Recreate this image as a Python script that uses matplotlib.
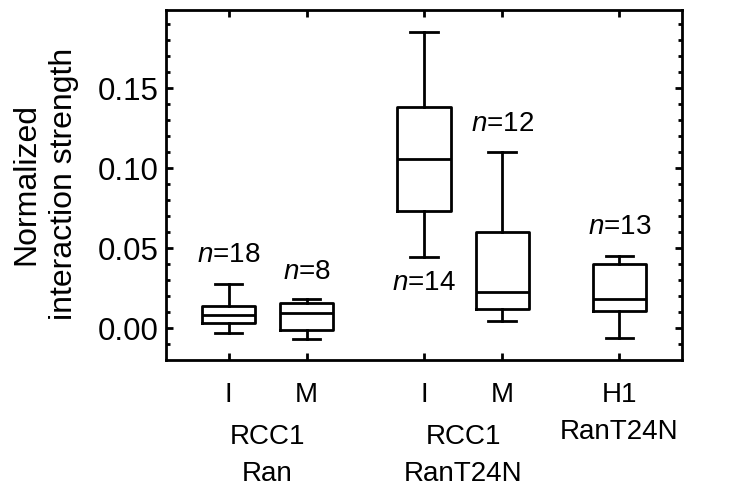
import matplotlib
matplotlib.use('Agg')
import matplotlib.pyplot as plt
from matplotlib import ticker

plt.rcParams['font.family'] = ['Liberation Sans', 'DejaVu Sans']
plt.rcParams['mathtext.fontset'] = 'custom'
plt.rcParams['mathtext.rm'] = 'Liberation Sans'
plt.rcParams['mathtext.it'] = 'Liberation Sans:italic'

# box statistics
positions = [1, 2, 3.5, 4.5, 6]
whislo = [-0.0031, -0.0069, 0.0444, 0.0046, -0.0061]
q1 = [0.0031, -0.0011, 0.0735, 0.0119, 0.0110]
med = [0.0083, 0.0094, 0.1058, 0.0229, 0.0181]
q3 = [0.0141, 0.0160, 0.1385, 0.0600, 0.0400]
whishi = [0.0279, 0.0181, 0.1854, 0.1102, 0.0454]

n_labels = ['$n$=18', '$n$=8', '$n$=14', '$n$=12', '$n$=13']
n_y = [0.0458, 0.0354, 0.0281, 0.1280, 0.0635]

tick_labels = ['I', 'M', 'I', 'M', 'H1\nRanT24N']
group_labels = ['RCC1\nRan', 'RCC1\nRanT24N']
group_x = [1.5, 4.0]

LW = 2.0
LS = 1.55  # line spacing of the two-line x labels

stats = []
for i in range(len(positions)):
    stats.append({'whislo': whislo[i], 'q1': q1[i], 'med': med[i],
                  'q3': q3[i], 'whishi': whishi[i], 'fliers': []})

fig = plt.figure(figsize=(7.36, 4.91), dpi=100)
ax = fig.add_axes([0.2255, 0.2668, 0.7011, 0.7128])

line = dict(color='black', linewidth=LW)
ax.bxp(stats, positions=positions, widths=0.68, showfliers=False,
       boxprops=line, whiskerprops=line, capprops=line,
       medianprops=line, capwidths=0.35, manage_ticks=False)

ax.set_xlim(0.2, 6.8)
ax.set_ylim(-0.0198, 0.199)

ax.yaxis.set_major_locator(ticker.MultipleLocator(0.05))
ax.yaxis.set_minor_locator(ticker.MultipleLocator(0.01))
ax.yaxis.set_major_formatter(ticker.FormatStrFormatter('%.2f'))
ax.set_xticks(positions)
ax.set_xticklabels(tick_labels, linespacing=LS)

ax.tick_params(axis='both', which='both', direction='in', width=LW,
               top=True, right=True)
ax.tick_params(axis='y', which='major', length=5, pad=5, labelsize=22.5)
ax.tick_params(axis='y', which='minor', length=3)
ax.tick_params(axis='x', which='major', length=5, pad=16, labelsize=20)
for s in ax.spines.values():
    s.set_linewidth(LW)

for x, y, t in zip(positions, n_y, n_labels):
    ax.text(x, y, t, ha='center', va='center', fontsize=20)

for x, t in zip(group_x, group_labels):
    ax.annotate(t, xy=(x, 0), xycoords=('data', 'axes fraction'),
                xytext=(0, -46), textcoords='offset points',
                ha='center', va='top', fontsize=20, linespacing=LS)

fig.text(45 / 736, 1 - 184 / 491, 'Normalized\ninteraction strength',
         rotation=90, ha='center', va='center', fontsize=23,
         multialignment='center', linespacing=1.35)

fig.savefig('out.png', dpi=100)
